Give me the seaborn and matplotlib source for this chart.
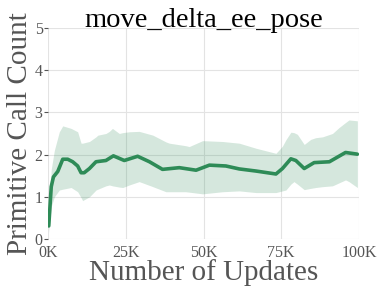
import matplotlib
matplotlib.use("Agg")
import matplotlib.pyplot as plt
import numpy as np
import pandas as pd
import seaborn as sns

# mean curve (updates in thousands, call count)
mean_steps = [0.2, 1.0, 1.7, 3.1, 4.7, 6.3, 7.9, 9.5, 10.6, 11.6, 13.3, 15.4, 18.6, 21.0,
              24.5, 28.8, 32.6, 36.8, 42.2, 47.6, 51.9, 57.2, 61.5, 66.9, 73.3, 75.4,
              78.1, 79.7, 82.4, 85.6, 90.5, 95.7, 99.5]
mean_count = [0.31, 1.24, 1.47, 1.60, 1.89, 1.89, 1.83, 1.73, 1.57, 1.57, 1.67, 1.83, 1.86,
              1.97, 1.86, 1.96, 1.83, 1.65, 1.69, 1.63, 1.75, 1.73, 1.66, 1.61, 1.54, 1.67,
              1.90, 1.86, 1.67, 1.81, 1.83, 2.05, 2.01]

# shaded band (std)
band_steps = [0.2, 1.0, 2.0, 3.6, 4.7, 7.4, 9.5, 10.6, 11.1, 13.3, 15.4, 16.0, 18.6, 19.7,
              20.7, 22.9, 24.0, 26.1, 29.3, 33.7, 37.9, 39.0, 44.3, 45.4, 49.7, 56.1,
              61.5, 66.9, 73.3, 75.4, 76.5, 78.1, 79.1, 80.2, 82.4, 84.5, 86.1, 88.3,
              91.5, 93.6, 95.7, 96.8, 99.5]
band_upper = [0.55, 1.65, 2.10, 2.54, 2.68, 2.62, 2.54, 2.27, 2.27, 2.31, 2.42, 2.46, 2.50,
              2.55, 2.62, 2.50, 2.52, 2.54, 2.55, 2.46, 2.30, 2.27, 2.21, 2.19, 2.33, 2.31,
              2.27, 2.15, 2.03, 2.20, 2.35, 2.53, 2.52, 2.48, 2.24, 2.36, 2.40, 2.42,
              2.50, 2.64, 2.76, 2.82, 2.80]
band_lower = [0.15, 0.77, 1.00, 1.16, 1.18, 1.22, 1.12, 0.98, 0.91, 1.00, 1.16, 1.18, 1.26,
              1.28, 1.26, 1.23, 1.22, 1.28, 1.36, 1.24, 1.12, 1.12, 1.12, 1.11, 1.07, 1.12,
              1.14, 1.10, 1.10, 1.14, 1.16, 1.30, 1.36, 1.30, 1.17, 1.20, 1.22, 1.24,
              1.26, 1.33, 1.40, 1.36, 1.22]

x_ticks = [0, 25, 50, 75, 100]
x_tick_labels = ["0K", "25K", "50K", "75K", "100K"]
y_ticks = [0, 1, 2, 3, 4, 5]

GREEN = "#2e8b57"

sns.set_style("whitegrid", {"grid.color": "#e3e3e3", "axes.edgecolor": "white"})
plt.rcParams["font.family"] = ["Liberation Serif", "DejaVu Serif"]

df = pd.DataFrame({"step": mean_steps, "count": mean_count})

fig = plt.figure(figsize=(3.79, 2.94), dpi=100)
ax = fig.add_axes([0.127, 0.187, 0.82, 0.718])

ax.fill_between(band_steps, band_lower, band_upper, color=GREEN, alpha=0.2, linewidth=0)
sns.lineplot(data=df, x="step", y="count", ax=ax, color=GREEN, linewidth=2.6)

ax.set_xlim(0, 100)
ax.set_ylim(0, 5)
ax.set_xticks(x_ticks)
ax.set_xticklabels(x_tick_labels)
ax.set_yticks(y_ticks)
ax.tick_params(axis="both", labelsize=11.5, colors="#555555", length=3, width=0.8,
               pad=1, left=True, bottom=False)
for s in ax.spines.values():
    s.set_visible(False)

ax.set_title("move_delta_ee_pose", fontsize=20.5, color="black", pad=1)
ax.set_xlabel("Number of Updates", fontsize=21, color="#555555", labelpad=-1)
ax.set_ylabel("Primitive Call Count", fontsize=21, color="#555555", labelpad=1)

fig.savefig("out.png", dpi=100)
